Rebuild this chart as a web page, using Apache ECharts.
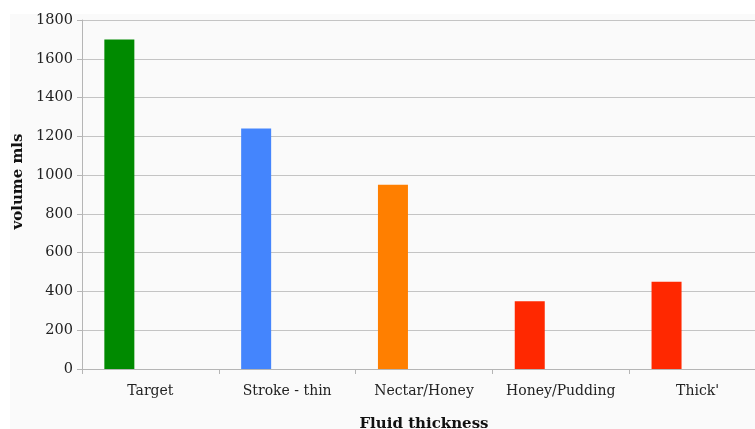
<!DOCTYPE html>
<html>
<head>
<meta charset="utf-8">
<script src="https://cdn.jsdelivr.net/npm/echarts@6/dist/echarts.min.js"></script>
<style>
  html, body { margin: 0; padding: 0; background: #ffffff; overflow: hidden; }
  #chart { width: 100vw; height: 100vh; }
</style>
</head>
<body>
<div id="chart"></div>
<script>
// data
const categories = ['Target', 'Stroke - thin', 'Nectar/Honey', 'Honey/Pudding', "Thick'"];
const volumes = [1700, 1240, 950, 350, 450];
const barColors = ['#008a00', '#4485fd', '#ff7f00', '#ff2800', '#ff2800'];
const emptySeries = [null, null, null, null, null];

const chart = echarts.init(document.getElementById('chart'));
const font = "'DejaVu Serif', serif";

const option = {
  backgroundColor: '#ffffff',
  animation: false,
  graphic: [{
    type: 'rect',
    left: 10, top: 14,
    shape: { width: 745, height: 415 },
    style: { fill: '#fafafa' },
    z: -10
  }],
  grid: { left: 82, right: -11, top: 20, bottom: 60, containLabel: false, outerBoundsMode: 'none' },
  xAxis: {
    type: 'category',
    data: categories,
    name: 'Fluid thickness',
    nameLocation: 'middle',
    nameGap: 48,
    nameTextStyle: { fontFamily: font, fontWeight: 'bold', fontSize: 15, color: '#111' },
    axisLine: { lineStyle: { color: '#b5b5b5' } },
    axisTick: { show: true, length: 5, lineStyle: { color: '#b5b5b5' } },
    axisLabel: { fontFamily: font, fontSize: 14, color: '#222', margin: 15, interval: 0 }
  },
  yAxis: {
    type: 'value',
    min: 0, max: 1800, interval: 200,
    name: 'volume mls',
    nameLocation: 'middle',
    nameGap: 55,
    nameTextStyle: { fontFamily: font, fontWeight: 'bold', fontSize: 15, color: '#111', padding: [0, 0, 0, 26] },
    axisLine: { show: true, lineStyle: { color: '#b5b5b5' } },
    axisTick: { show: true, length: 5, lineStyle: { color: '#b5b5b5' } },
    axisLabel: { fontFamily: font, fontSize: 14.5, color: '#222', margin: 9, formatter: v => String(v) },
    splitLine: { lineStyle: { color: '#c4c4c4' } }
  },
  series: [
    {
      type: 'bar',
      barWidth: 30,
      barGap: '107%',
      data: volumes.map((v, i) => ({ value: v, itemStyle: { color: barColors[i] } }))
    },
    {
      type: 'bar',
      barWidth: 30,
      data: emptySeries
    }
  ]
};

chart.setOption(option);
</script>
</body>
</html>
